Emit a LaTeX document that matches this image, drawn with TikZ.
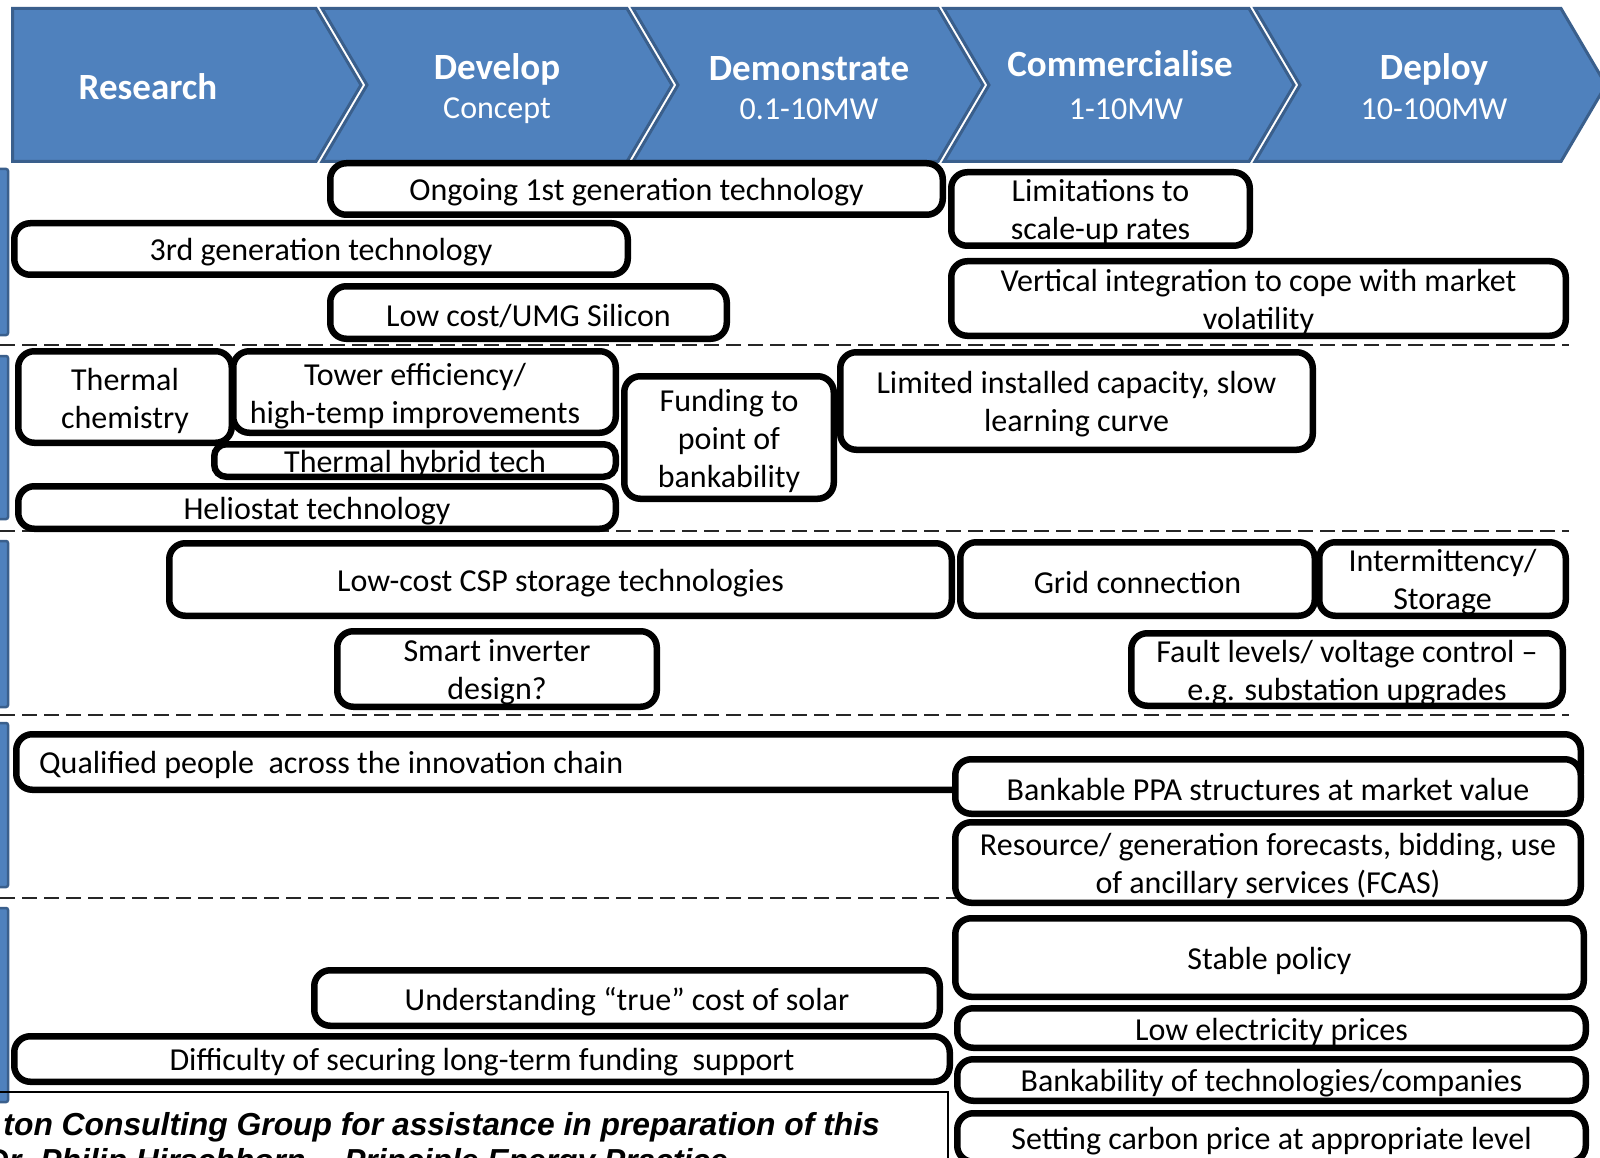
\documentclass[tikz,border=0pt]{standalone}
\usepackage{fontspec}
\setmainfont{Carlito}
\newfontfamily\footfont{Liberation Sans}
\definecolor{hblue}{HTML}{4F81BD}
\definecolor{hborder}{HTML}{3A5F8C}
\newcommand{\rbox}[7][]{%
  \node[box,#1,minimum width={#5-#3-6.5},minimum height={#6-#4-6.5}] (#2) at ({(#3+#5)/2},{(#4+#6)/2}) {};
  \node[txt] (#2-t) at ([yshift=-3.5pt]#2.center) {#7};}
\begin{document}
\begin{tikzpicture}[x=1pt,y=-1pt,
  box/.style={draw=black,line width=6.5pt,rounded corners=16pt,fill=white,inner sep=0pt},
  txt/.style={inner sep=0pt,align=center,font=\fontsize{32}{38}\selectfont},
  chev/.style={fill=hblue,draw=hborder,line width=3pt,line join=miter},
  hdr/.style={text=white,font=\bfseries\fontsize{37}{40}\selectfont,inner sep=0pt},
  hsub/.style={text=white,font=\fontsize{32}{34}\selectfont,inner sep=0pt},
  sidebar/.style={fill=hblue,draw=hborder,line width=2.5pt,rounded corners=2pt},
  divider/.style={draw=black!85,line width=2pt,dash pattern=on 15pt off 7pt},
  foot/.style={font=\footfont\bfseries\itshape\fontsize{31.8}{36}\selectfont,inner sep=0pt}
]
\useasboundingbox (0,0) rectangle (1600,1158);
\clip (0,0) rectangle (1600,1158);
\fill[white] (0,0) rectangle (1600,1158);

% dividers
\foreach \yy in {345,531,715,898} \draw[divider] (0,\yy) -- (1569,\yy);

% side bars
\foreach \ya/\yb in {168/336,355/520,540/708,722/888,907/1103}
  \draw[sidebar] (-6,\ya+1) rectangle (8,\yb-1);

% footer frame
\draw[line width=1.5pt] (-5,1092) -- (948,1092) -- (948,1170);

% header chevrons
\draw[chev] (12.5,8.5) -- (316,8.5) -- (361,85) -- (316,161.5) -- (12.5,161.5) -- cycle;
\draw[chev] (322,8.5) -- (627,8.5) -- (672,85) -- (627,161.5) -- (322,161.5) -- (367,85) -- cycle;
\draw[chev] (633,8.5) -- (938,8.5) -- (983,85) -- (938,161.5) -- (633,161.5) -- (678,85) -- cycle;
\draw[chev] (944,8.5) -- (1249,8.5) -- (1294,85) -- (1249,161.5) -- (944,161.5) -- (989,85) -- cycle;
\draw[chev] (1255,8.5) -- (1561,8.5) -- (1606,85) -- (1561,161.5) -- (1255,161.5) -- (1300,85) -- cycle;

\node[hdr] (research) at (148,87) {Research};
\node[hdr] (develop) at (497,69) {Develop};
\node[hsub] (concept) at (497,111) {Concept};
\node[hdr] (demo) at (809,69) {Demonstrate};
\node[hsub] (demomw) at (809,109) {0.1-10MW};
\node[hdr] (comm) at (1120,64) {Commercialise};
\node[hsub] (commmw) at (1126,109) {1-10MW};
\node[hdr] (deploy) at (1434,69) {Deploy};
\node[hsub] (deploymw) at (1434,109) {10-100MW};

% row 1
\rbox{third}{11}{220}{631}{278}{3rd generation technology}
\rbox{ongoing}{327}{160}{946}{218}{Ongoing 1st generation technology}
\rbox{lowcost}{327}{283}{730}{342}{Low cost/UMG Silicon}
\rbox{limit}{948}{169}{1253}{249}{Limitations to\\scale-up rates}
\rbox{vert}{948}{258}{1569}{339}{Vertical integration to cope with market\\volatility}

% row 2
\rbox{helio}{15}{483}{619}{532}{Heliostat technology}
\rbox[rounded corners=12pt]{hybrid}{211}{441}{619}{480}{Thermal hybrid tech}
\node[box,minimum width={619-230-6.5},minimum height={436-348-6.5}] (tower) at ({(230+619)/2},{(348+436)/2}) {};
\node[txt] (tower-t) at (415,396) {Tower efficiency/\\high-temp improvements};
\rbox{chem}{15}{348}{235}{446}{Thermal\\chemistry}
\rbox{fund}{621}{373}{837}{502}{Funding to\\point of\\bankability}
\rbox{limited}{837}{349}{1316}{453}{Limited installed capacity, slow\\learning curve}

% row 3
\rbox{csp}{166}{540}{955}{619}{Low-cost CSP storage technologies}
\rbox{grid}{957}{539}{1318}{619}{Grid connection}
\rbox{interm}{1316}{539}{1569}{619}{Intermittency/\\Storage}
\rbox{smart}{334}{628}{660}{710}{Smart inverter\\design?}
\rbox{fault}{1128}{630}{1566}{709}{Fault levels/ voltage control --\\e.g. substation upgrades}

% row 4
\node[box,minimum width={1584-13-6.5},minimum height={793-731-6.5}] (qual) at ({(13+1584)/2},{(731+793)/2}) {};
\node[txt,anchor=west] (qual-t) at (39,765) {Qualified people~ across the innovation chain};
\rbox{ppa}{952}{756}{1584}{817}{Bankable PPA structures at market value}
\rbox{resource}{952}{819}{1584}{906}{Resource/ generation forecasts, bidding, use\\of ancillary services (FCAS)}

% row 5
\rbox{stable}{952}{915}{1587}{1000}{Stable policy}
\rbox{underst}{311}{967}{943}{1029}{Understanding “true” cost of solar}
\rbox{diff}{11}{1033}{953}{1085}{Difficulty of securing long-term funding~ support}
\rbox{lowel}{954}{1005}{1589}{1051}{Low electricity prices}
\rbox{bankab}{954}{1056}{1589}{1104}{Bankability of technologies/companies}
\rbox{carbon}{954}{1110}{1589}{1165}{Setting carbon price at appropriate level}

% footer text
\node[foot,anchor=base east] (ack1) at (880,1135) {ton Consulting Group for assistance in preparation of this};
\node[foot,anchor=base west] (ack2) at (-14,1171) {Dr. Philip Hirschhorn -- Principle Energy Practice};
\end{tikzpicture}
\end{document}
